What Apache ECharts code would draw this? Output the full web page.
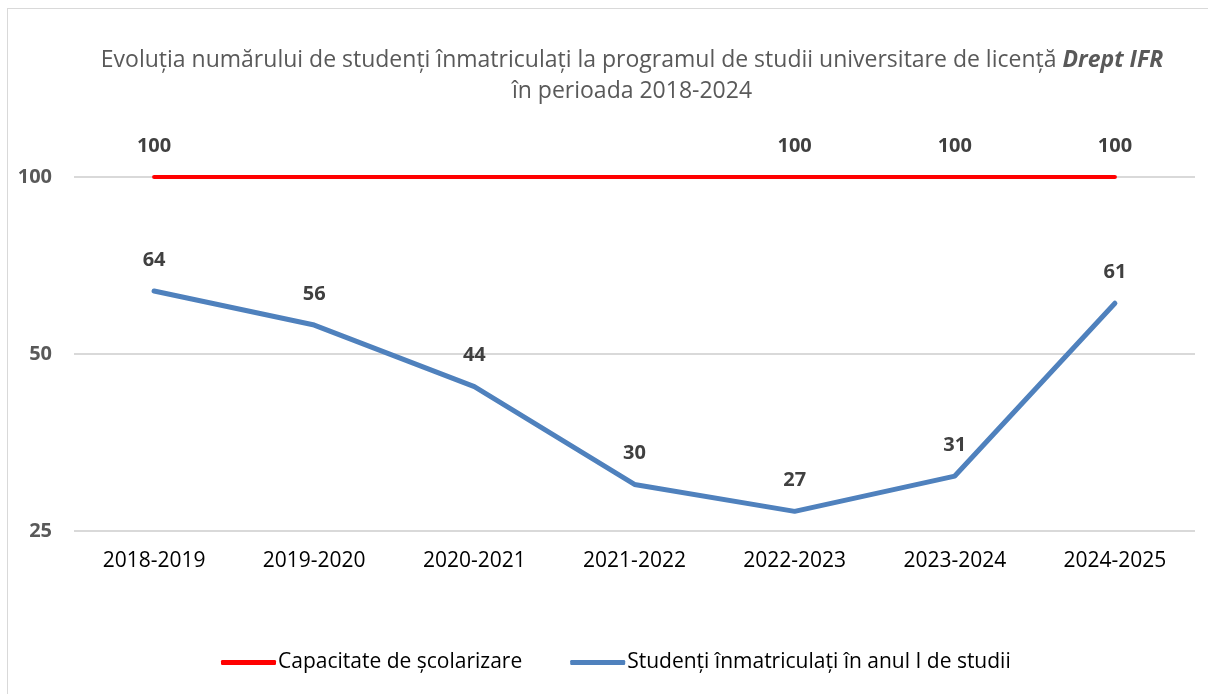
<!DOCTYPE html>
<html>
<head>
<meta charset="utf-8">
<script src="https://cdn.jsdelivr.net/npm/echarts@6/dist/echarts.min.js"></script>
<style>
  html, body { margin: 0; padding: 0; background: #fff; }
  #chart { position: absolute; left: 7px; top: 8px; width: 1210px; height: 700px;
           border: 1px solid #d9d9d9; box-sizing: border-box; }
</style>
</head>
<body>
<div id="chart"></div>
<script>
// ani universitari
const anii = ['2018-2019', '2019-2020', '2020-2021', '2021-2022', '2022-2023', '2023-2024', '2024-2025'];
// capacitatea de scolarizare
const capacitate = [100, 100, 100, 100, 100, 100, 100];
// studenti inmatriculati in anul I
const inmatriculati = [64, 56, 44, 30, 27, 31, 61];
// etichete afisate pe linia rosie (unele lipsesc in original)
const etichetaCapacitate = [true, false, false, false, true, true, true];
const valoriAxaY = [25, 50, 100];

const font = '"Open Sans", "Noto Sans", sans-serif';
const myChart = echarts.init(document.getElementById('chart'));

const etichetaSerie = { show: true, position: 'top', distance: 21, fontFamily: font, fontSize: 20, fontWeight: 'bold', color: '#404040' };

const option = {
    animation: false,
    title: {
        text: '{a|Evoluția numărului de studenți înmatriculați la programul de studii universitare de licență }{b|Drept IFR}\n{a|în perioada 2018-2024}',
        left: 619,
        top: 31,
        textAlign: 'center',
        textStyle: {
            fontWeight: 'normal',
            rich: {
                a: { fontFamily: font, fontSize: 23, fontWeight: 'normal', color: '#595959', lineHeight: 31 },
                b: { fontFamily: font, fontSize: 23, color: '#595959', fontWeight: 'bold', fontStyle: 'italic', lineHeight: 31 }
            }
        }
    },
    grid: { left: 66, right: 21, top: 168, bottom: 176, containLabel: false },
    legend: {
        bottom: 29,
        left: 208,
        itemWidth: 55,
        itemHeight: 5,
        itemGap: 48,
        icon: 'roundRect',
        textStyle: { fontFamily: font, fontSize: 21, color: '#000', padding: [0, 0, 0, -3] },
        data: ['Capacitate de școlarizare', 'Studenți înmatriculați în anul I de studii']
    },
    xAxis: {
        type: 'category',
        data: anii,
        axisLine: { show: false },
        axisTick: { show: false },
        axisLabel: { fontFamily: font, fontSize: 21, color: '#000', margin: 20 }
    },
    yAxis: {
        type: 'log',
        logBase: 2,
        min: 25,
        max: 100,
        axisLine: { show: false },
        axisTick: { show: false, customValues: valoriAxaY },
        axisLabel: { customValues: valoriAxaY, fontFamily: font, fontSize: 20, fontWeight: 'bold', color: '#595959', margin: 22 },
        splitLine: { show: true, lineStyle: { color: '#d9d9d9', width: 2 } }
    },
    series: [
        {
            name: 'Capacitate de școlarizare',
            type: 'line',
            data: capacitate.map((v, i) => ({
                value: v,
                label: { show: etichetaCapacitate[i] }
            })),
            symbol: 'circle',
            symbolSize: 0,
            showSymbol: true,
            lineStyle: { color: '#ff0000', width: 4, cap: 'round' },
            itemStyle: { color: '#ff0000' },
            label: etichetaSerie
        },
        {
            name: 'Studenți înmatriculați în anul I de studii',
            type: 'line',
            data: inmatriculati,
            symbol: 'circle',
            symbolSize: 0,
            showSymbol: true,
            lineStyle: { color: '#4f81bd', width: 5, cap: 'round' },
            itemStyle: { color: '#4f81bd' },
            label: etichetaSerie
        }
    ]
};
option && myChart.setOption(option);
</script>
</body>
</html>
